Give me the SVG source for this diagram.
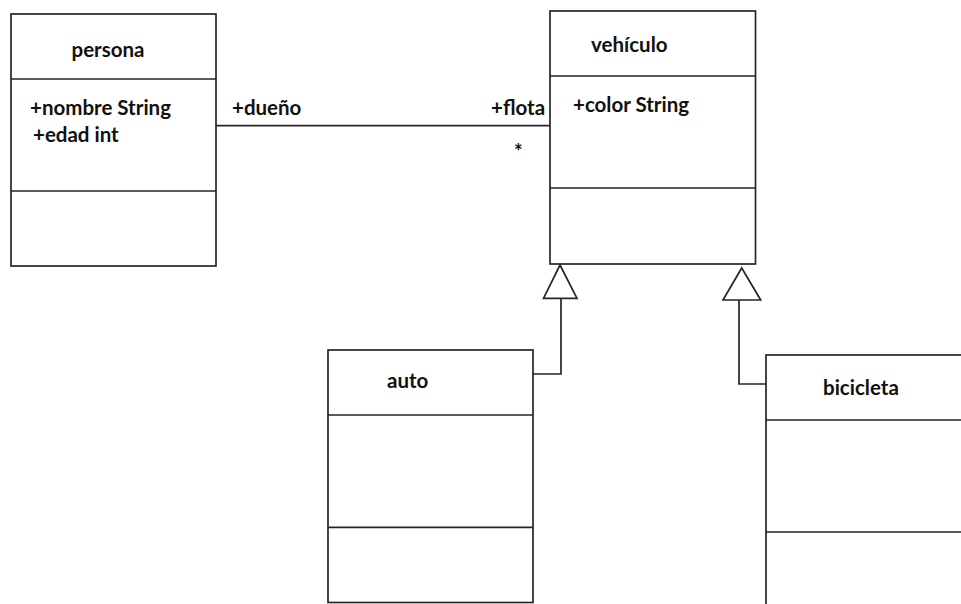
<svg xmlns="http://www.w3.org/2000/svg" width="961" height="604" viewBox="0 0 961 604">
<style>
.box{fill:#fff;stroke:#262626;stroke-width:1.7}
.div{stroke:#262626;stroke-width:1.7;fill:none}
.con{stroke:#262626;stroke-width:1.7;fill:none}
.tri{fill:#fff;stroke:#262626;stroke-width:1.7;stroke-linejoin:miter}
text{font-family:Lato,"Liberation Sans",sans-serif;font-weight:bold;font-size:20.5px;fill:#111}
</style>
<rect width="961" height="604" fill="#fff"/>
<g id="connectors">
<line class="con" x1="216" y1="125.7" x2="550" y2="125.7"/>
<text x="232" y="115">+dueño</text>
<text x="491" y="115">+flota</text>
<text x="514" y="159">*</text>
<polyline class="con" points="533,374 561,374 561,298"/>
<polygon class="tri" points="560,265 543.5,298.3 577,298.3"/>
<polyline class="con" points="766,384 739,384 739,300"/>
<polygon class="tri" points="741.7,268 723,300 760.7,300"/>
</g>
<g id="persona">
<rect class="box" x="11" y="14" width="205" height="252"/>
<line class="div" x1="11" y1="79" x2="216" y2="79"/>
<line class="div" x1="11" y1="191" x2="216" y2="191"/>
<text x="108" y="57" text-anchor="middle">persona</text>
<text x="30" y="115">+nombre String</text>
<text x="33" y="142">+edad int</text>
</g>
<g id="vehiculo">
<rect class="box" x="550" y="11" width="205.5" height="253"/>
<line class="div" x1="550" y1="76" x2="755.5" y2="76"/>
<line class="div" x1="550" y1="188" x2="755.5" y2="188"/>
<text x="591" y="52">vehículo</text>
<text x="573" y="112">+color String</text>
</g>
<g id="auto">
<rect class="box" x="328" y="350" width="205" height="252.5"/>
<line class="div" x1="328" y1="415" x2="533" y2="415"/>
<line class="div" x1="328" y1="527.3" x2="533" y2="527.3"/>
<text x="387" y="388">auto</text>
</g>
<g id="bicicleta">
<rect class="box" x="766" y="355" width="220" height="260"/>
<line class="div" x1="766" y1="420" x2="961" y2="420"/>
<line class="div" x1="766" y1="532" x2="961" y2="532"/>
<text x="823" y="395">bicicleta</text>
</g>
</svg>
